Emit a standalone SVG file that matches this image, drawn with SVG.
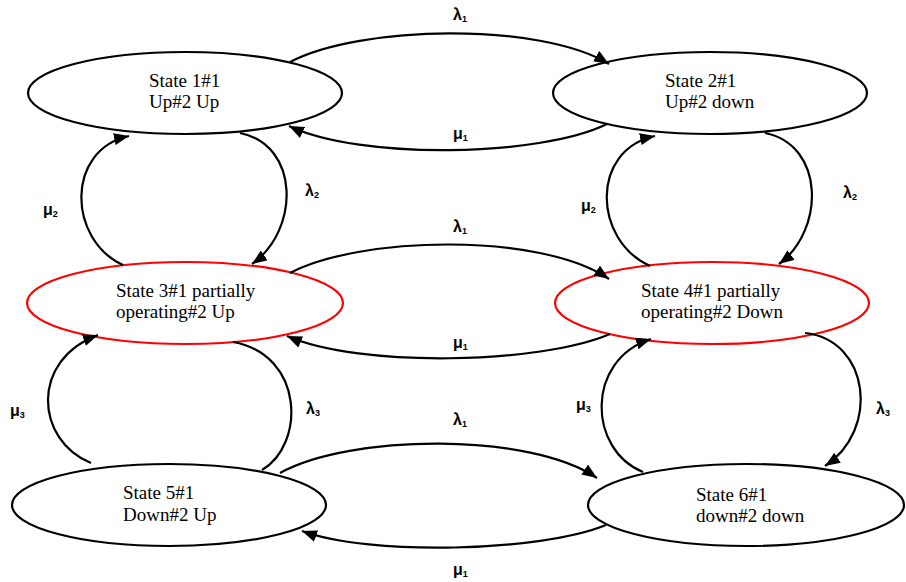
<svg xmlns="http://www.w3.org/2000/svg" width="906" height="582" viewBox="0 0 906 582">
<style>
.st{fill:#fff;stroke:#000;stroke-width:2.2}
.red{fill:#fff;stroke:#ff0000;stroke-width:2.2}
.t{font-family:"Liberation Serif","Times New Roman",serif;font-size:19px;fill:#000}
.c{fill:none;stroke:#000;stroke-width:2.2}
.a{marker-end:url(#ah)}
.l{font-family:"Liberation Sans",Arial,sans-serif;font-size:16px;font-weight:bold;fill:#000}
.s{font-size:9px}
</style>
<defs>
<marker id="ah" markerUnits="userSpaceOnUse" markerWidth="16" markerHeight="12" refX="15" refY="6" orient="auto">
<path d="M0,0 L15,6 L0,12 z" fill="#000"/>
</marker>
</defs>
<g id="state1"><ellipse class="st" cx="185" cy="93" rx="157" ry="41"/><text class="t" x="149" y="87">State 1#1</text><text class="t" x="149" y="108">Up#2 Up</text></g>
<g id="state2"><ellipse class="st" cx="710" cy="93" rx="157" ry="41"/><text class="t" x="665" y="87">State 2#1</text><text class="t" x="665" y="108">Up#2 down</text></g>
<g id="state3"><ellipse class="red" cx="185" cy="303" rx="158" ry="41"/><text class="t" x="116" y="297">State 3#1 partially</text><text class="t" x="116" y="318">operating#2 Up</text></g>
<g id="state4"><ellipse class="red" cx="712" cy="303" rx="157" ry="41"/><text class="t" x="641" y="297">State 4#1 partially</text><text class="t" x="641" y="318">operating#2 Down</text></g>
<g id="state5"><ellipse class="st" cx="169" cy="505" rx="157" ry="41"/><text class="t" x="123" y="499">State 5#1</text><text class="t" x="123" y="521">Down#2 Up</text></g>
<g id="state6"><ellipse class="st" cx="746" cy="505" rx="158" ry="41"/><text class="t" x="696" y="501">State 6#1</text><text class="t" x="696" y="522">down#2 down</text></g>
<g id="connectors">
<path class="c a" d="M290,62 C360,25 540,22 609,64"/>
<path class="c a" d="M607,124 C540,157 360,160 289,126"/>
<path class="c a" d="M240,133 C300,145 300,230 252,264"/>
<path class="c a" d="M123,265 C68,240 65,150 129,136"/>
<path class="c a" d="M765,133 C825,145 825,230 779,264"/>
<path class="c a" d="M650,266 C593,240 590,150 655,136"/>
<path class="c a" d="M290,273 C360,236 540,232 609,279"/>
<path class="c a" d="M610,334 C540,364 360,368 287,336"/>
<path class="c" d="M233,342 C305,355 305,445 262,470"/>
<path class="c a" d="M91,463 C35,440 30,360 98,335"/>
<path class="c a" d="M805,333 C870,340 880,430 825,466"/>
<path class="c a" d="M643,472 C588,450 585,360 651,339"/>
<path class="c a" d="M280,473 C350,434 530,432 597,478"/>
<path class="c a" d="M606,525 C540,552 370,556 302,531"/>
<text class="l" x="453" y="20">λ<tspan class="s" dy="2">1</tspan></text>
<text class="l" x="453" y="139">μ<tspan class="s" dy="2">1</tspan></text>
<text class="l" x="43" y="215">μ<tspan class="s" dy="2">2</tspan></text>
<text class="l" x="305" y="196">λ<tspan class="s" dy="2">2</tspan></text>
<text class="l" x="843" y="198">λ<tspan class="s" dy="2">2</tspan></text>
<text class="l" x="581" y="211">μ<tspan class="s" dy="2">2</tspan></text>
<text class="l" x="453" y="232">λ<tspan class="s" dy="2">1</tspan></text>
<text class="l" x="453" y="348">μ<tspan class="s" dy="2">1</tspan></text>
<text class="l" x="10" y="416">μ<tspan class="s" dy="2">3</tspan></text>
<text class="l" x="306" y="414">λ<tspan class="s" dy="2">3</tspan></text>
<text class="l" x="576" y="410">μ<tspan class="s" dy="2">3</tspan></text>
<text class="l" x="876" y="414">λ<tspan class="s" dy="2">3</tspan></text>
<text class="l" x="453" y="425">λ<tspan class="s" dy="2">1</tspan></text>
<text class="l" x="453" y="575">μ<tspan class="s" dy="2">1</tspan></text>
</g>
</svg>
